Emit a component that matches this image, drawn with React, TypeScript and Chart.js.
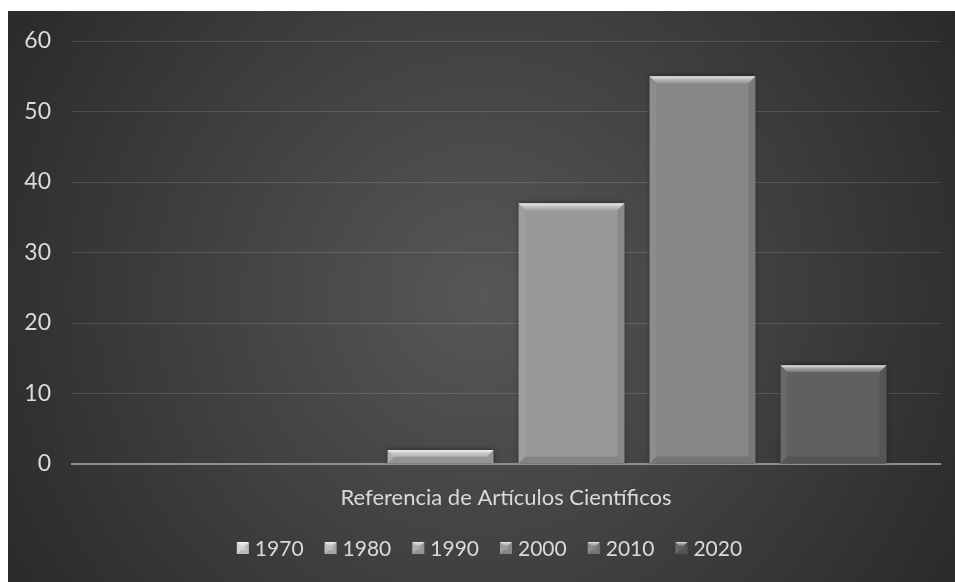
import { useEffect, useRef } from "react";
import { Chart, registerables } from "chart.js";

Chart.register(...registerables);

// Data
const categories = ["Referencia de Artículos Científicos"];
const decades = ["1970", "1980", "1990", "2000", "2010", "2020"];
const articleCounts = [0, 0, 2, 37, 55, 14];
const decadeColors = ["#d2d2d2", "#bcbcbc", "#a9a9a9", "#989898", "#868686", "#606060"];
const yMax = 60;
const yStep = 10;

const FONT = "Lato, 'Open Sans', sans-serif";
const TEXT = "#dadada";

const W = 947;
const H = 571;

// Soft drop shadow under the bars
const barShadow = {
  id: "barShadow",
  beforeDatasetsDraw(chart: any) {
    const ctx = chart.ctx;
    ctx.save();
    ctx.shadowColor = "rgba(0,0,0,0.55)";
    ctx.shadowBlur = 5;
    ctx.shadowOffsetX = 0;
    ctx.shadowOffsetY = 0;
  },
  afterDatasetsDraw(chart: any) {
    chart.ctx.restore();
  },
};

function drawBevel(ctx: CanvasRenderingContext2D, l: number, t: number, r: number, b: number, size: number) {
  const bv = Math.min(size, (b - t) / 2, (r - l) / 2);
  if (bv <= 0) return;
  // top face
  const g = ctx.createLinearGradient(0, t, 0, t + bv);
  g.addColorStop(0, "rgba(255,255,255,0.85)");
  g.addColorStop(0.4, "rgba(255,255,255,0.45)");
  g.addColorStop(1, "rgba(255,255,255,0.12)");
  ctx.fillStyle = g;
  ctx.beginPath();
  ctx.moveTo(l, t);
  ctx.lineTo(r, t);
  ctx.lineTo(r - bv, t + bv);
  ctx.lineTo(l + bv, t + bv);
  ctx.closePath();
  ctx.fill();
  // left face
  ctx.fillStyle = "rgba(255,255,255,0.06)";
  ctx.beginPath();
  ctx.moveTo(l, t);
  ctx.lineTo(l + bv, t + bv);
  ctx.lineTo(l + bv, b - bv);
  ctx.lineTo(l, b);
  ctx.closePath();
  ctx.fill();
  // right face
  ctx.fillStyle = "rgba(0,0,0,0.10)";
  ctx.beginPath();
  ctx.moveTo(r, t);
  ctx.lineTo(r - bv, t + bv);
  ctx.lineTo(r - bv, b - bv);
  ctx.lineTo(r, b);
  ctx.closePath();
  ctx.fill();
  // bottom face
  ctx.fillStyle = "rgba(0,0,0,0.12)";
  ctx.beginPath();
  ctx.moveTo(l, b);
  ctx.lineTo(r, b);
  ctx.lineTo(r - bv, b - bv);
  ctx.lineTo(l + bv, b - bv);
  ctx.closePath();
  ctx.fill();
}

// Bevelled faces on every bar
const barBevel = {
  id: "barBevel",
  afterDatasetsDraw(chart: any) {
    const ctx = chart.ctx;
    chart.data.datasets.forEach((_ds: any, i: number) => {
      const meta = chart.getDatasetMeta(i);
      meta.data.forEach((bar: any) => {
        const { x, y, base, width } = bar.getProps(["x", "y", "base", "width"], true);
        const l = x - width / 2;
        const r = x + width / 2;
        const t = Math.min(y, base);
        const b = Math.max(y, base);
        if (b - t < 1) return;
        ctx.save();
        drawBevel(ctx, l, t, r, b, 7);
        ctx.restore();
      });
    });
  },
};

// Legend row drawn beneath the axis label
const decadeLegend = {
  id: "decadeLegend",
  afterDraw(chart: any) {
    const ctx = chart.ctx;
    ctx.save();
    ctx.font = `21px ${FONT}`;
    ctx.textBaseline = "middle";
    ctx.textAlign = "left";
    const box = 12;
    const gap = 6;
    const spacing = 21;
    const widths = decades.map((d) => ctx.measureText(d).width);
    const total = widths.reduce((a, w) => a + box + gap + w, 0) + spacing * (decades.length - 1);
    let x = chart.width / 2 + 8 - total / 2;
    const cy = 537;
    decades.forEach((d, i) => {
      ctx.fillStyle = decadeColors[i];
      ctx.fillRect(x, cy - box / 2, box, box);
      drawBevel(ctx, x, cy - box / 2, x + box, cy + box / 2, 4);
      ctx.fillStyle = TEXT;
      ctx.fillText(d, x + box + gap, cy + 1);
      x += box + gap + widths[i] + spacing;
    });
    ctx.restore();
  },
};

export default function App() {
  const ref = useRef<HTMLCanvasElement>(null);

  useEffect(() => {
    if (!ref.current) return;
    const chart = new Chart(ref.current, {
      type: "bar",
      data: {
        labels: categories,
        datasets: decades.map((d, i) => ({
          label: d,
          data: [articleCounts[i]],
          backgroundColor: decadeColors[i],
          borderWidth: 0,
          categoryPercentage: 0.9055,
          barPercentage: 0.809,
        })),
      },
      options: {
        responsive: false,
        animation: false,
        layout: { padding: { left: 0, right: 15, top: 30, bottom: 0 } },
        plugins: {
          legend: { display: false },
          tooltip: { enabled: false },
        },
        scales: {
          x: {
            grid: { display: false },
            border: { display: true, color: "#8f8f8f", width: 2 },
            ticks: {
              color: TEXT,
              font: { family: FONT, size: 22 },
              padding: 13,
            },
            afterFit: (axis: any) => {
              axis.height = 118;
            },
          },
          y: {
            min: 0,
            max: yMax,
            ticks: {
              stepSize: yStep,
              color: TEXT,
              font: { family: FONT, size: 23 },
              padding: 21,
            },
            grid: { color: "rgba(255,255,255,0.13)", lineWidth: 1, drawTicks: false },
            border: { display: false },
            afterFit: (axis: any) => {
              axis.width = 64;
              axis.paddingTop = 0;
              axis.paddingBottom = 0;
            },
          },
        },
      },
      plugins: [barShadow, barBevel, decadeLegend],
    });
    return () => chart.destroy();
  }, []);

  return (
    <div
      style={{
        position: "absolute",
        left: 8,
        top: 11,
        width: W,
        height: H,
        background:
          "radial-gradient(circle farthest-corner at 50% 50%, #575757 0%, #2a2a2a 100%)",
      }}
    >
      <canvas ref={ref} width={W} height={H} style={{ display: "block" }} />
    </div>
  );
}
